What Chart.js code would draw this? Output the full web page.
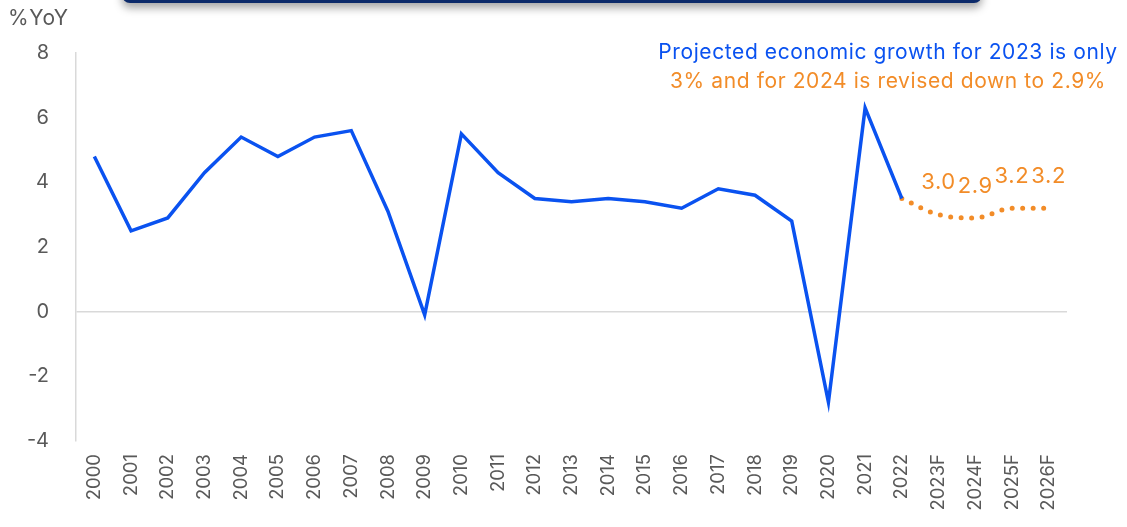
<!DOCTYPE html>
<html>
<head>
<meta charset="utf-8">
<script src="https://cdn.jsdelivr.net/npm/chart.js@4"></script>
<style>
  html, body { margin: 0; padding: 0; background: #fff; overflow: hidden; }
  body { width: 1127px; height: 527px; position: relative; font-family: Inter, "Open Sans", sans-serif; }
  #wrap { position: absolute; left: 0; top: 0; width: 1127px; height: 527px; }
  .banner { position: absolute; left: 122px; top: -40px; width: 860px; height: 43px; background: #0c2a6a;
    border-radius: 8px; box-shadow: 0 5px 8px rgba(0,0,0,0.35); }
  .unit { position: absolute; left: 8px; top: 5px; font-size: 21px; letter-spacing: 0.6px; color: #595959; }
  .note { position: absolute; left: 618px; top: 37px; width: 540px; text-align: center; font-size: 21px;
    letter-spacing: 0.6px; line-height: 29px; white-space: nowrap; }
  .note .blue { color: #0a52f0; }
  .note .orange { color: #f28c28; }
</style>
</head>
<body>
<div class="banner"></div>
<div id="wrap"><canvas id="growthChart" width="1127" height="527"></canvas></div>
<div class="unit">%YoY</div>
<div class="note"><span class="blue">Projected economic growth for 2023 is only</span><br><span class="orange">3% and for 2024 is revised down to 2.9%</span></div>
<script>
// categories and series
const years = ["2000", "2001", "2002", "2003", "2004", "2005", "2006", "2007", "2008", "2009",
  "2010", "2011", "2012", "2013", "2014", "2015", "2016", "2017", "2018", "2019",
  "2020", "2021", "2022", "2023F", "2024F", "2025F", "2026F"];
const actual = [4.8, 2.5, 2.9, 4.3, 5.4, 4.8, 5.4, 5.6, 3.1, -0.1,
  5.5, 4.3, 3.5, 3.4, 3.5, 3.4, 3.2, 3.8, 3.6, 2.8,
  -2.8, 6.3, 3.5, null, null, null, null];
const forecast = [null, null, null, null, null, null, null, null, null, null,
  null, null, null, null, null, null, null, null, null, null,
  null, null, 3.5, 3.0, 2.9, 3.2, 3.2];
const labelledFrom = 23; // forecast points that carry a value label
const yTicks = [-4, -2, 0, 2, 4, 6, 8];

const blue = "#0a52f0";
const orange = "#f28c28";

// value labels above the forecast points
const forecastLabels = {
  id: "forecastLabels",
  afterDatasetsDraw(chart) {
    const ctx = chart.ctx;
    const meta = chart.getDatasetMeta(1);
    ctx.save();
    ctx.font = "22px Inter, sans-serif";
    ctx.letterSpacing = "0.6px";
    ctx.fillStyle = orange;
    ctx.textAlign = "center";
    ctx.textBaseline = "middle";
    for (let i = labelledFrom; i < forecast.length; i++) {
      const pt = meta.data[i];
      ctx.fillText(forecast[i].toFixed(1), pt.x, pt.y - 32);
    }
    ctx.restore();
  }
};

new Chart(document.getElementById("growthChart"), {
  type: "line",
  data: {
    labels: years,
    datasets: [
      {
        data: actual,
        borderColor: blue,
        borderWidth: 3.5,
        pointRadius: 0,
        tension: 0,
        spanGaps: false
      },
      {
        data: forecast,
        borderColor: orange,
        borderWidth: 5,
        borderDash: [0, 10.5],
        borderCapStyle: "round",
        pointRadius: 0,
        tension: 0.4,
        cubicInterpolationMode: "monotone"
      }
    ]
  },
  plugins: [forecastLabels],
  options: {
    responsive: false,
    animation: false,
    layout: { padding: { top: 53, right: 60, left: 0, bottom: 0 } },
    plugins: { legend: { display: false }, tooltip: { enabled: false } },
    scales: {
      x: {
        offset: true,
        grid: { display: false, drawTicks: false },
        border: { display: false },
        afterFit(scale) { scale.height = 86; },
        ticks: {
          minRotation: 90,
          maxRotation: 90,
          autoSkip: false,
          padding: 13,
          color: "#595959",
          font: { family: "Inter, sans-serif", size: 18.5 }
        }
      },
      y: {
        min: -4,
        max: 8,
        afterFit(scale) { scale.width = 76; },
        afterBuildTicks(scale) { scale.ticks = yTicks.map(v => ({ value: v })); },
        border: { display: true, color: "#d9d9d9", width: 1.5 },
        grid: {
          drawTicks: false,
          color: c => (c.tick && c.tick.value === 0 ? "#d9d9d9" : "rgba(0,0,0,0)"),
          lineWidth: 1.5
        },
        ticks: {
          padding: 27,
          color: "#595959",
          font: { family: "Inter, sans-serif", size: 20 }
        }
      }
    }
  }
});
</script>
</body>
</html>
